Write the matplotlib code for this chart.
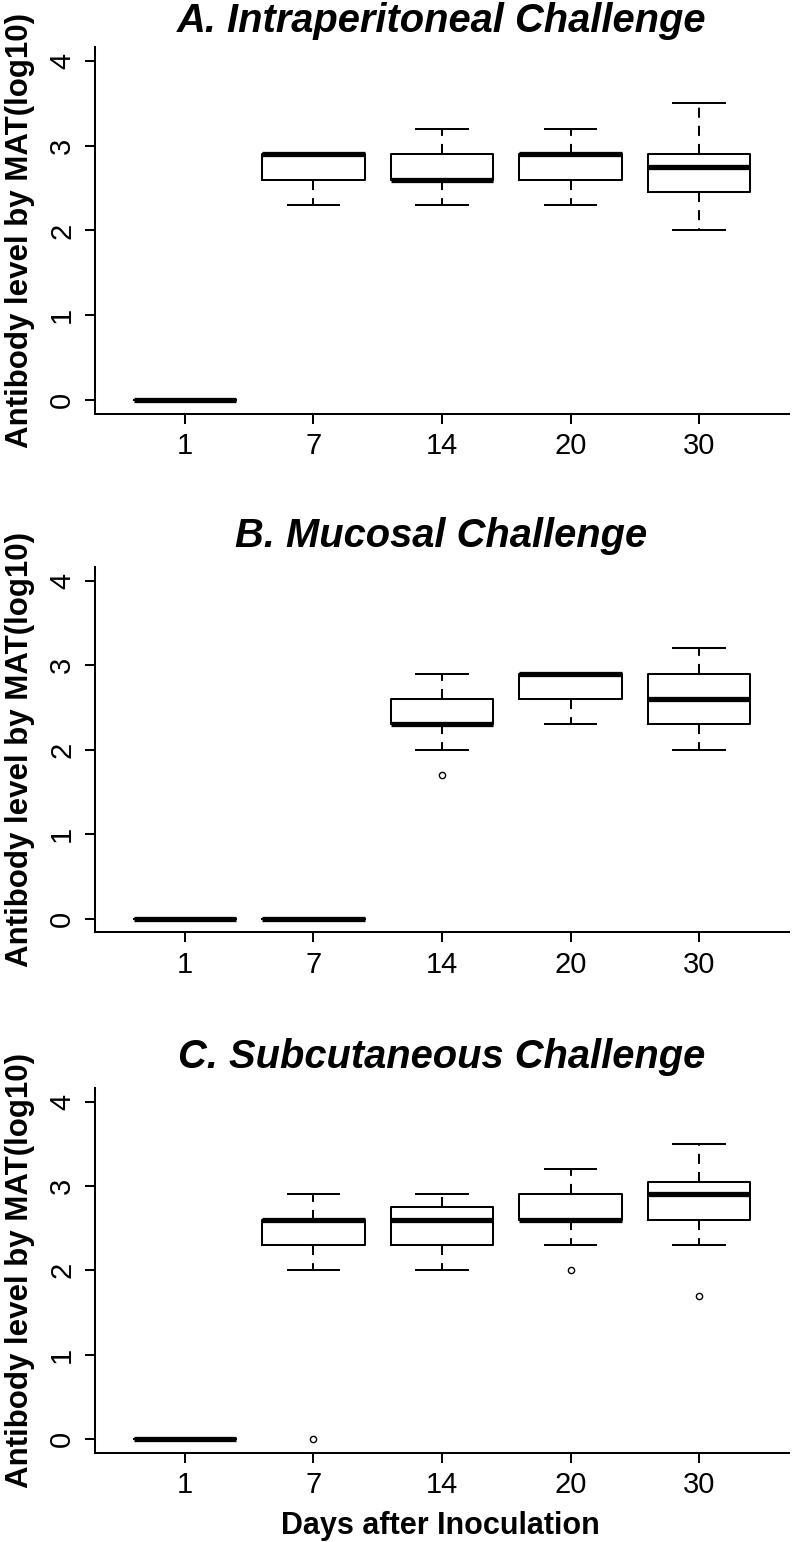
import matplotlib
matplotlib.use("Agg")
import matplotlib.pyplot as plt

plt.rcParams['font.family'] = ['Liberation Sans', 'DejaVu Sans']

days = ['1', '7', '14', '20', '30']

titles = ['A. Intraperitoneal Challenge', 'B. Mucosal Challenge', 'C. Subcutaneous Challenge']
ylabel = 'Antibody level by MAT(log10)'
xlabel = 'Days after Inoculation'

# Panel A: Intraperitoneal
A_q1 = [0.0, 2.6, 2.6, 2.6, 2.45]
A_med = [0.0, 2.9, 2.6, 2.9, 2.75]
A_q3 = [0.0, 2.9, 2.9, 2.9, 2.9]
A_lo = [0.0, 2.3, 2.3, 2.3, 2.0]
A_hi = [0.0, 2.9, 3.2, 3.2, 3.5]
A_out = [[], [], [], [], []]

# Panel B: Mucosal
B_q1 = [0.0, 0.0, 2.3, 2.6, 2.3]
B_med = [0.0, 0.0, 2.3, 2.9, 2.6]
B_q3 = [0.0, 0.0, 2.6, 2.9, 2.9]
B_lo = [0.0, 0.0, 2.0, 2.3, 2.0]
B_hi = [0.0, 0.0, 2.9, 2.9, 3.2]
B_out = [[], [], [1.7], [], []]

# Panel C: Subcutaneous
C_q1 = [0.0, 2.3, 2.3, 2.6, 2.6]
C_med = [0.0, 2.6, 2.6, 2.6, 2.9]
C_q3 = [0.0, 2.6, 2.75, 2.9, 3.05]
C_lo = [0.0, 2.0, 2.0, 2.3, 2.3]
C_hi = [0.0, 2.9, 2.9, 3.2, 3.5]
C_out = [[], [0.0], [], [2.0], [1.7]]

panels = [
    (A_q1, A_med, A_q3, A_lo, A_hi, A_out),
    (B_q1, B_med, B_q3, B_lo, B_hi, B_out),
    (C_q1, C_med, C_q3, C_lo, C_hi, C_out),
]

W, H = 792, 1542
fig = plt.figure(figsize=(W / 100, H / 100), dpi=100)

# axes extents in pixels (left, right, top, bottom)
ax_left, ax_right = 95, 789
ax_tb = [(47.5, 413.5), (567, 932.5), (1088, 1452.5)]
title_base = [32, 547, 1068]

LW = 1.45
TICKFS = 21
for i, (q1, med, q3, lo, hi, out) in enumerate(panels):
    top, bot = ax_tb[i]
    ax = fig.add_axes([ax_left / W, 1 - bot / H, (ax_right - ax_left) / W, (bot - top) / H])
    stats = []
    for k in range(len(days)):
        stats.append(dict(med=med[k], q1=q1[k], q3=q3[k], whislo=lo[k], whishi=hi[k],
                          fliers=out[k], label=days[k]))
    ax.bxp(stats, positions=range(1, len(days) + 1), widths=0.8, capwidths=0.4,
           boxprops=dict(color='black', linewidth=LW),
           whiskerprops=dict(color='black', linewidth=LW, linestyle=(0, (5, 4))),
           capprops=dict(color='black', linewidth=LW),
           medianprops=dict(color='black', linewidth=3.8, solid_capstyle='butt'),
           flierprops=dict(marker='o', markerfacecolor='none', markeredgecolor='black',
                           markersize=4.5, markeredgewidth=1.0),
           manage_ticks=False)
    ax.set_xlim(0.3, 5.7)
    ax.set_ylim(-0.16, 4.16)
    ax.set_xticks(range(1, len(days) + 1))
    ax.set_xticklabels(days, fontsize=TICKFS)
    ax.set_yticks([0, 1, 2, 3, 4])
    ax.set_yticklabels(['0', '1', '2', '3', '4'], fontsize=TICKFS, rotation=90, va='center')
    ax.tick_params(axis='both', length=7.5, width=LW, color='black')
    ax.tick_params(axis='x', pad=6)
    ax.tick_params(axis='y', pad=6)
    for s in ['top', 'right']:
        ax.spines[s].set_visible(False)
    for s in ['left', 'bottom']:
        ax.spines[s].set_linewidth(LW)
    ax.text(-0.108, 0.5, ylabel, transform=ax.transAxes, rotation=90, ha='center',
            va='center', fontsize=22.5, fontweight='bold')
    fig.text(441.5 / W, 1 - title_base[i] / H, titles[i],
             ha='center', va='baseline', fontsize=28.7, fontweight='bold', fontstyle='italic')

fig.text(440 / W, 1 - 1534 / H, xlabel, ha='center', va='baseline',
         fontsize=22, fontweight='bold')

fig.savefig('out.png', dpi=100)
